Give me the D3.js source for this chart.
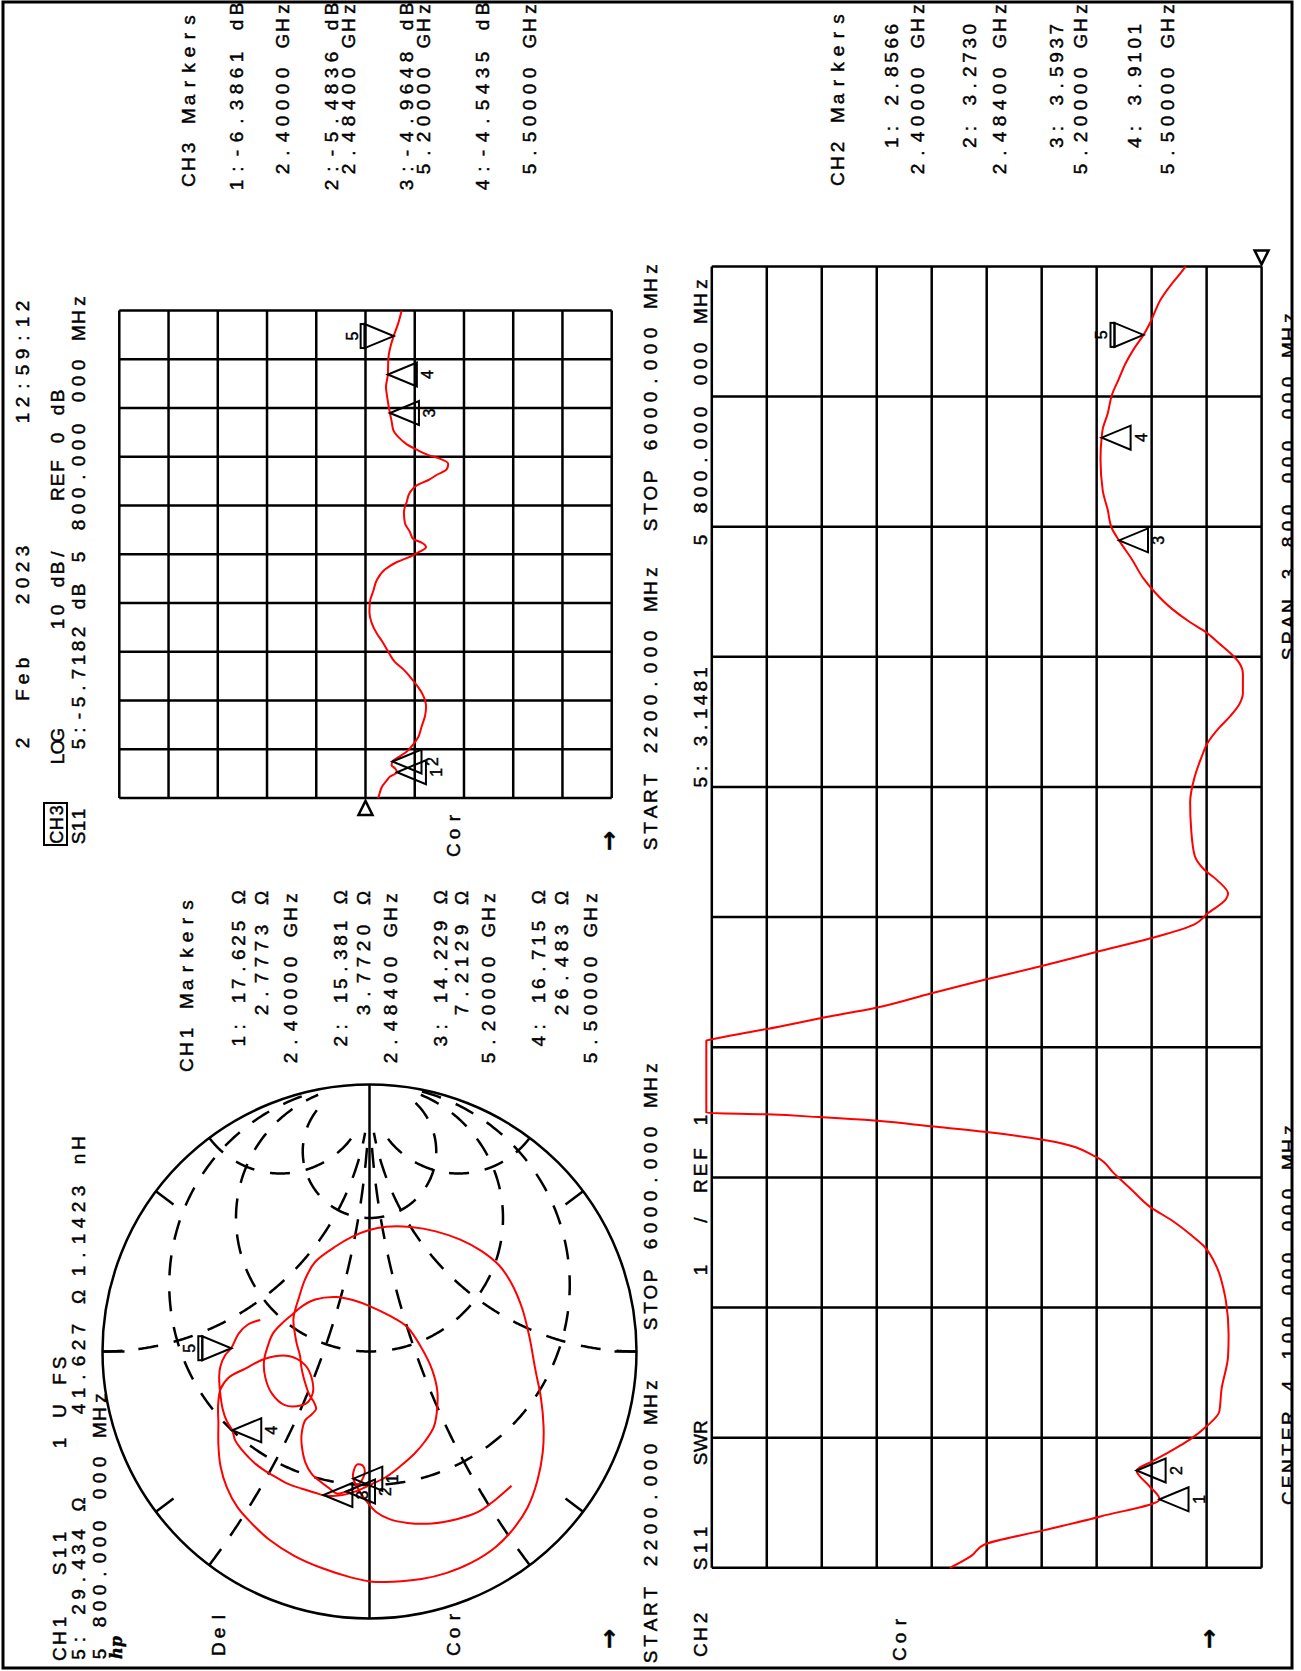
<!DOCTYPE html>
<html>
<head>
<meta charset="utf-8">
<title>S11 CH1 Smith / CH2 SWR / CH3 LOG MAG</title>
<script src="https://d3js.org/d3.v7.min.js"></script>
<style>
  body { margin: 0; background: #fff; }
  svg text { font-family: "Liberation Sans", Arial, sans-serif; fill: #000; white-space: pre;
             stroke: #000; stroke-width: 0.45px; }
</style>
</head>
<body>
<svg id="chart" width="1301" height="1671"></svg>
<script>
// ---- data ----
const startMHz = 2200, stopMHz = 6000;
const markerNums = [1, 2, 3, 4, 5];
const markerMHz = [2400, 2484, 5200, 5500, 5800];
const ch1Res = [17.625, 15.381, 14.229, 16.715, 29.434];
const ch1React = [2.7773, 3.7720, 7.2129, 26.483, 41.627];
const ch2Swr = [2.8566, 3.2730, 3.5937, 3.9101, 3.1481];
const ch3Db = [-6.3861, -5.4836, -4.9648, -4.5435, -5.7182];

const ch3TraceMHz = [2200,2240,2283,2330,2367,2400,2430,2455,2484,2520,2562,2618,2673,2757,2840,2910,3007,3063,3146,3202,3258,3341,3425,3481,3564,3648,3731,3815,3898,3982,4037,4079,4121,4154,4190,4218,4274,4344,4427,4511,4580,4636,4678,4719,4761,4803,4845,4872,4914,4956,5012,5067,5137,5200,5318,5402,5500,5624,5722,5800,5903,6000];
const ch3TraceDb = [-2.6,-2.9,-3.3,-4.2,-5.0,-6.39,-6.0,-5.3,-5.48,-6.8,-8.4,-9.7,-10.7,-11.4,-12.1,-12.3,-11.6,-10.7,-9.0,-7.7,-6.0,-4.6,-3.3,-2.3,-1.25,-0.8,-0.9,-1.6,-2.3,-4.0,-6.3,-9.0,-11.1,-12.3,-11.4,-9.7,-9.0,-8.0,-7.8,-8.4,-9.0,-10.4,-12.8,-14.5,-16.5,-16.8,-15.1,-12.8,-10.4,-8.4,-6.7,-5.65,-5.3,-4.96,-4.43,-4.16,-4.54,-4.64,-5.11,-5.72,-6.67,-7.35];

const ch2TraceMHz = [2200,2235,2268,2310,2350,2400,2440,2484,2510,2543,2575,2616,2656,2720,2818,2880,2980,3012,3076,3141,3174,3214,3254,3303,3351,3400,3448,3473,3489,3505,3516,3524,3529,3739,3743,3780,3804,3836,3877,3917,3958,3998,4038,4079,4111,4152,4168,4208,4241,4281,4354,4435,4508,4564,4609,4653,4687,4720,4754,4810,4843,4871,4899,4933,4961,5000,5050,5089,5145,5200,5234,5290,5346,5436,5500,5525,5570,5626,5670,5715,5760,5800,5838,5905,5950,5983,6000];
const ch2TraceSwr = [6.67,6.28,6.04,4.95,3.93,2.8566,3.05,3.273,3.0,2.63,2.30,1.98,1.77,1.73,1.61,1.60,1.65,1.69,1.81,2.06,2.30,2.63,3.03,3.36,3.68,4.01,4.90,6.04,7.02,7.99,9.05,10.01,11.1,11.1,11.0,9.78,9.05,7.99,7.02,6.04,4.98,4.01,3.02,2.22,1.98,1.65,1.61,1.81,2.06,2.22,2.28,2.30,2.22,2.10,1.98,1.77,1.57,1.41,1.34,1.34,1.41,1.57,1.77,2.02,2.30,2.63,2.95,3.15,3.36,3.5937,3.72,3.80,3.89,3.93,3.9101,3.89,3.80,3.72,3.60,3.48,3.32,3.1481,3.02,2.83,2.63,2.46,2.38];

// reflection coefficient along the CH1 trace (real, imaginary), 2.2 -> 6 GHz
const smithRe = [-0.503,-0.554,-0.601,-0.628,-0.644,-0.642,-0.628,-0.604,-0.570,-0.530,-0.476,
  -0.450,-0.423,-0.430,-0.463,-0.507,-0.525,
  -0.532,-0.510,-0.483,-0.459,-0.416,-0.349,-0.307,-0.258,-0.235,-0.215,-0.188,-0.161,-0.121,-0.093,-0.054,-0.017,0.027,0.058,0.121,0.168,0.196,0.271,0.336,0.396,0.430,0.454,0.467,0.466,0.450,0.419,0.376,0.322,0.255,0.161,0.054,-0.067,-0.174,-0.282,-0.376,-0.483,-0.584,-0.664,-0.732,-0.792,-0.830,-0.852,-0.862,-0.862,-0.846,-0.812,-0.765,-0.705,-0.644,-0.584,-0.510,-0.430,-0.349,-0.268,-0.201,-0.141,-0.097,-0.064,-0.027,-0.017,-0.051,-0.101,-0.154,-0.188,-0.201,-0.201,-0.157,-0.094,-0.034,0.020,0.067,0.105,0.134,0.172,0.195,0.204,0.191,0.172,0.134,0.091,0.013,-0.067,-0.148,-0.228,-0.282,-0.336,-0.383,-0.430,-0.470,-0.497,-0.521,-0.537,-0.541,-0.538,
  -0.529,-0.513,-0.497,-0.472,-0.447,-0.420,-0.396,-0.365,-0.333,-0.295,-0.262,-0.215,-0.148,-0.094,-0.054,-0.013,0.012,0.067,0.102,0.118];
const smithIm = [-0.532,-0.473,-0.407,-0.327,-0.234,-0.142,-0.075,-0.029,0.004,0.033,0.061,
  0.060,0.046,0.023,0.020,0.050,0.088,
  0.123,0.154,0.189,0.216,0.240,0.254,0.254,0.241,0.216,0.200,0.209,0.226,0.240,0.248,0.256,0.260,0.272,0.278,0.285,0.275,0.266,0.241,0.203,0.123,0.064,0.004,-0.062,-0.155,-0.248,-0.340,-0.420,-0.486,-0.532,-0.572,-0.599,-0.621,-0.642,-0.652,-0.649,-0.629,-0.592,-0.539,-0.473,-0.380,-0.287,-0.195,-0.089,-0.009,0.070,0.176,0.282,0.375,0.441,0.494,0.534,0.558,0.566,0.566,0.567,0.558,0.527,0.465,0.391,0.303,0.241,0.216,0.212,0.229,0.254,0.317,0.366,0.391,0.395,0.381,0.362,0.328,0.295,0.249,0.203,0.123,0.057,0.004,-0.075,-0.142,-0.195,-0.234,-0.254,-0.252,-0.241,-0.208,-0.168,-0.115,-0.062,-0.009,0.044,0.097,0.136,0.173,
  0.204,0.256,0.303,0.348,0.391,0.428,0.453,0.481,0.503,0.514,0.534,0.550,0.560,0.563,0.558,0.540,0.518,0.490,0.454,0.409];

const smithResCircles = [1/3, 1, 3];
const smithReactArcs = [1/3, 1, 3];
const smithRimTicks = [0.5, 1, 2];
const z0 = 50;

// ---- page: the printout is landscape, turned a quarter to the left ----
const svg = d3.select("#chart");
svg.append("defs").append("clipPath").attr("id", "paper")
  .append("rect").attr("x", 3).attr("y", 2).attr("width", 1289).attr("height", 1666);
const paper = svg.append("g").attr("clip-path", "url(#paper)")
  .append("g").attr("transform", "translate(0,1671) rotate(-90)");

svg.append("rect").attr("x", 3).attr("y", 2).attr("width", 1289).attr("height", 1666)
  .attr("fill", "none").attr("stroke", "#000").attr("stroke-width", 3);

// fixed-cell text like the analyzer's plotter font
function say(lx, ly, s, o = {}) {
  const cw = o.cw || 16;
  const xs = Array.from(s, (c, i) => (lx + i * cw + cw / 2).toFixed(1));
  const t = paper.append("text")
    .attr("x", xs.join(" ")).attr("y", ly)
    .attr("text-anchor", "middle")
    .attr("font-size", o.fs || 19)
    .attr("font-weight", o.fw || null)
    .text(s);
  if (o.family) t.style("font-family", o.family);
  return t;
}
const sayRight = (end, ly, s, o = {}) => say(end - Array.from(s).length * (o.cw || 16), ly, s, o);

function marker(x, y, n, active) {
  const h = 29, hw = 12;
  if (active) {
    paper.append("path").attr("d", `M${x},${y}L${x - hw},${y - h}L${x + hw},${y - h}Z`)
      .attr("fill", "none").attr("stroke", "#000").attr("stroke-width", 2);
    paper.append("rect").attr("x", x - hw).attr("y", y - h - 4).attr("width", 2 * hw).attr("height", 4)
      .attr("fill", "none").attr("stroke", "#000").attr("stroke-width", 2);
    paper.append("text").attr("x", x).attr("y", y - h - 7).attr("text-anchor", "middle")
      .attr("font-size", 16).text(n);
  } else {
    paper.append("path").attr("d", `M${x},${y}L${x - hw},${y + h}L${x + hw},${y + h}Z`)
      .attr("fill", "none").attr("stroke", "#000").attr("stroke-width", 2);
    paper.append("text").attr("x", x).attr("y", y + h + 16).attr("text-anchor", "middle")
      .attr("font-size", 16).text(n);
  }
}

const fmt5 = v => v.toPrecision(5);
const ghz = f => (f / 1000).toFixed(5) + " GHz";

// ---- CH3 : log magnitude ----
const x3 = d3.scaleLinear().domain([startMHz, stopMHz]).range([873.1, 1360.6]);
const y3 = d3.scaleLinear().domain([-50, 50]).range([611.7, 119.3]);
const fDivs = d3.range(0, 11).map(i => startMHz + i * (stopMHz - startMHz) / 10);

const g3 = paper.append("g").attr("stroke", "#000").attr("stroke-width", 2.5);
g3.selectAll(".v").data(fDivs).join("line")
  .attr("x1", d => x3(d)).attr("x2", d => x3(d)).attr("y1", y3(50)).attr("y2", y3(-50));
g3.selectAll(".h").data(d3.range(-50, 51, 10)).join("line")
  .attr("x1", x3(startMHz)).attr("x2", x3(stopMHz)).attr("y1", d => y3(d)).attr("y2", d => y3(d));

paper.append("path")
  .datum(d3.zip(ch3TraceMHz, ch3TraceDb))
  .attr("fill", "none").attr("stroke", "#ff0000").attr("stroke-width", 2)
  .attr("d", d3.line().x(d => x3(d[0])).y(d => y3(d[1])).curve(d3.curveMonotoneX));

markerNums.forEach((n, i) => marker(x3(markerMHz[i]), y3(ch3Db[i]), n, n === 5));
// reference position
paper.append("path")
  .attr("d", `M${x3(startMHz) - 3},${y3(0)}L${x3(startMHz) - 17},${y3(0) - 7}L${x3(startMHz) - 17},${y3(0) + 7}Z`)
  .attr("fill", "none").attr("stroke", "#000").attr("stroke-width", 2.5);

// ---- CH2 : SWR ----
const x2 = d3.scaleLinear().domain([startMHz, stopMHz]).range([103.2, 1404.6]);
const y2 = d3.scaleLinear().domain([1, 11]).range([1261.6, 711.8]);

const g2 = paper.append("g").attr("stroke", "#000").attr("stroke-width", 2.5);
g2.selectAll(".v").data(fDivs).join("line")
  .attr("x1", d => x2(d)).attr("x2", d => x2(d)).attr("y1", y2(11)).attr("y2", y2(1));
g2.selectAll(".h").data(d3.range(1, 12)).join("line")
  .attr("x1", x2(startMHz)).attr("x2", x2(stopMHz)).attr("y1", d => y2(d)).attr("y2", d => y2(d));

paper.append("path")
  .datum(d3.zip(ch2TraceMHz, ch2TraceSwr))
  .attr("fill", "none").attr("stroke", "#ff0000").attr("stroke-width", 2)
  .attr("d", d3.line().x(d => x2(d[0])).y(d => y2(d[1])).curve(d3.curveMonotoneX));

markerNums.forEach((n, i) => marker(x2(markerMHz[i]), y2(ch2Swr[i]), n, n === 5));
paper.append("path")
  .attr("d", `M${x2(stopMHz) + 2},${y2(1)}L${x2(stopMHz) + 16},${y2(1) - 7}L${x2(stopMHz) + 16},${y2(1) + 7}Z`)
  .attr("fill", "none").attr("stroke", "#000").attr("stroke-width", 2.5);

// ---- CH1 : Smith chart ----
const sc = { x: 319.5, y: 369.5, r: 267 };
const sx = d3.scaleLinear().domain([-1, 1]).range([sc.x - sc.r, sc.x + sc.r]);
const sy = d3.scaleLinear().domain([-1, 1]).range([sc.y + sc.r, sc.y - sc.r]);
const gam = (r, x) => {
  const dr = r + 1, d = dr * dr + x * x;
  return [((r - 1) * dr + x * x) / d, (x * dr - (r - 1) * x) / d];
};
const sLine = d3.line().x(d => sx(d[0])).y(d => sy(d[1]));

const gs = paper.append("g").attr("fill", "none").attr("stroke", "#000").attr("stroke-width", 2.5);
gs.append("circle").attr("cx", sc.x).attr("cy", sc.y).attr("r", sc.r);
gs.append("line").attr("x1", sx(-1)).attr("x2", sx(1)).attr("y1", sy(0)).attr("y2", sy(0));

const ang = d3.range(0, 401).map(i => -Math.atan(10) + i * 2 * Math.atan(10) / 400);
smithResCircles.forEach(r => {
  gs.append("path").attr("stroke-dasharray", "20 16")
    .attr("d", sLine(ang.map(a => gam(r, Math.tan(a)))));
});
const angR = d3.range(0, 301).map(i => i * Math.atan(10) / 300);
smithReactArcs.forEach(x => {
  [x, -x].forEach(xx => {
    gs.append("path").attr("stroke-dasharray", "20 16")
      .attr("d", sLine(angR.map(a => gam(Math.tan(a), xx))));
  });
});
smithRimTicks.forEach(x => {
  [x, -x].forEach(xx => {
    const g = gam(0, xx), k = 1 - 22 / sc.r;
    gs.append("line").attr("x1", sx(g[0])).attr("y1", sy(g[1]))
      .attr("x2", sx(g[0] * k)).attr("y2", sy(g[1] * k));
  });
});

paper.append("path")
  .datum(d3.zip(smithRe, smithIm))
  .attr("fill", "none").attr("stroke", "#ff0000").attr("stroke-width", 2)
  .attr("d", sLine.curve(d3.curveCatmullRom.alpha(0.5)));

markerNums.forEach((n, i) => {
  const g = gam(ch1Res[i] / z0, ch1React[i] / z0);
  marker(sx(g[0]), sy(g[1]), n, n === 5);
});

// ---- annotations ----
// CH3 header
say(920, 29, "2"); say(968, 29, "Feb"); say(1064, 29, "2023"); say(1245, 29, "12:59:12");
paper.append("rect").attr("x", 826).attr("y", 44).attr("width", 42).attr("height", 23)
  .attr("fill", "none").attr("stroke", "#000").attr("stroke-width", 2);
say(827, 63, "CH3", { cw: 13.5, fs: 18 });
say(906, 64, "LOG", { cw: 12 });
say(1040, 64, "10 dB/", { cw: 14 });
say(1170, 64, "REF 0 dB", { cw: 14 });
say(827, 85, "S11", { cw: 12 });
say(920, 85, `5:${fmt5(ch3Db[4])} dB`, { cw: 14 });
say(1106, 85, "5 800.000 000 MHz");

// CH1 header
say(9, 66, "CH1"); say(94, 66, "S11"); say(220, 66, "1 U FS");
say(9, 85, `5: ${fmt5(ch1Res[4])} Ω`, { cw: 15 });
say(254, 85, `${fmt5(ch1React[4])} Ω`);
const lnH = ch1React[4] / (2 * Math.PI * markerMHz[4] * 1e6) * 1e9;
say(392, 85, `${lnH.toFixed(4)} nH`);
say(9, 106, "5 800.000 000 MHz");
paper.append("text").attr("x", 12).attr("y", 122).attr("font-size", 16)
  .attr("font-style", "italic").attr("font-weight", "bold")
  .style("font-family", "'DejaVu Serif', serif").text("hp");

say(14, 225, "Del");
say(14, 460, "Cor");
say(813, 460, "Cor");
say(9, 906, "Cor");
const arrowOpt = { cw: 22, fs: 24, fw: "bold", family: "'DejaVu Sans', sans-serif" };
say(21, 617, "→", arrowOpt);
say(819, 617, "→", arrowOpt);
say(21, 1217, "→", arrowOpt);

say(6, 657, "START 2200.000 MHz"); say(339, 657, "STOP 6000.000 MHz");
say(819, 657, "START 2200.000 MHz"); say(1138, 657, "STOP 6000.000 MHz");

// CH2 header and footer
say(13, 707, "CH2"); say(99, 707, "S11"); say(204, 707, "SWR");
say(393, 707, "1"); say(443, 707, "/"); say(477, 707, "REF"); say(543, 707, "1");
say(882, 707, `5: ${fmt5(ch2Swr[4])}`, { cw: 13.7 });
say(1123, 707, "5 800.000 000 MHz");
say(165, 1295, "CENTER 4 100.000 000 MHz");
say(1009, 1295, "SPAN 3 800.000 000 MHz");

// marker tables
say(1483, 195, "CH3 Markers");
const ch3ValY = [243, 337.5, 412.5, 489], ch3FreqY = [289, 355, 430, 536];
[0, 1, 2, 3].forEach(i => {
  sayRight(1670, ch3ValY[i], `${markerNums[i]}:${fmt5(ch3Db[i])} dB`);
  sayRight(1670, ch3FreqY[i], ghz(markerMHz[i]));
});

say(1484, 844, "CH2 Markers");
const ch2ValY = [898, 976, 1063, 1141], ch2FreqY = [924, 1006, 1087, 1174];
[0, 1, 2, 3].forEach(i => {
  sayRight(1649, ch2ValY[i], `${markerNums[i]}: ${fmt5(ch2Swr[i])}`, { cw: 14.2 });
  sayRight(1670, ch2FreqY[i], ghz(markerMHz[i]));
});

say(598, 193, "CH1 Markers");
const ch1RY = [245, 347, 447, 545], ch1XY = [268, 370, 468, 568], ch1FY = [297, 397, 495, 597];
[0, 1, 2, 3].forEach(i => {
  sayRight(781, ch1RY[i], `${markerNums[i]}: ${fmt5(ch1Res[i])} Ω`, { cw: 14.4 });
  sayRight(781, ch1XY[i], `${fmt5(ch1React[i])} Ω`);
  sayRight(781, ch1FY[i], ghz(markerMHz[i]));
});
</script>
</body>
</html>
